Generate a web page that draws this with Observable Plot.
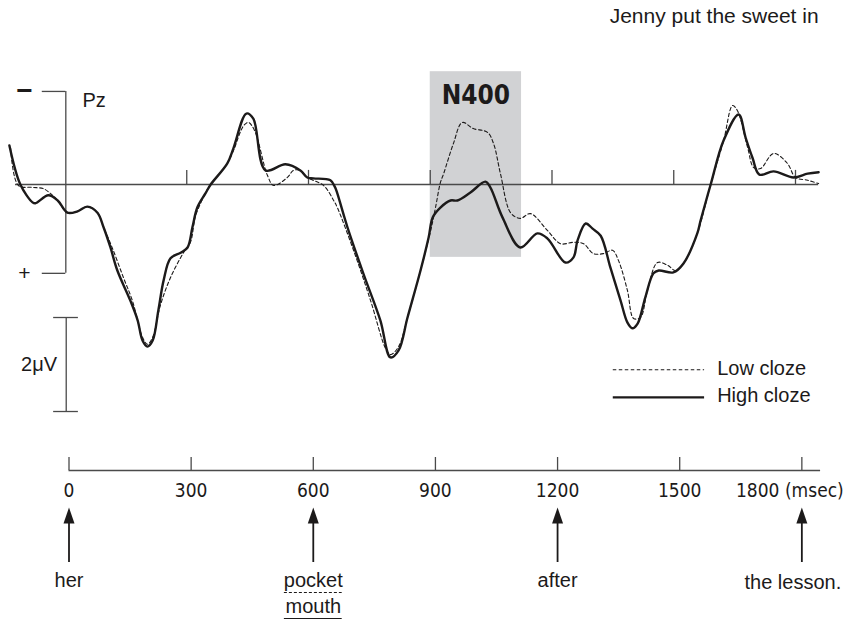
<!DOCTYPE html>
<html><head><meta charset="utf-8">
<script src="https://cdn.jsdelivr.net/npm/d3@7"></script>
<script src="https://cdn.jsdelivr.net/npm/@observablehq/plot@0.6"></script>
<style>body{margin:0;background:#fff;} #chart svg{display:block;}</style>
</head><body><div id="chart"></div>
<script>
// ---- data (ms, microvolts; negative plotted up) ----
const highT = [-137,-110,-80,-73,-41,-18,6,31,55,80,95,112,129,161,179,191,203,216,230,243,260,285,302,314,326,346,359,400,415,447,464,494,543,580,597,612,654,665,671,696,735,777,802,822,844,876,896,906,925,950,967,999,1036,1048,1078,1122,1164,1189,1233,1253,1263,1283,1300,1320,1344,1369,1386,1398,1411,1430,1450,1463,1499,1524,1558,1566,1591,1623,1660,1677,1694,1711,1746,1795,1830,1857];
const highV = [-0.83,0.0,0.38,0.40,0.23,0.34,0.60,0.57,0.47,0.60,0.91,1.34,1.83,2.47,2.89,3.32,3.45,3.32,2.68,2.04,1.57,1.45,1.34,0.91,0.49,0.19,0.0,-0.45,-0.77,-1.51,-1.40,-0.30,-0.43,-0.30,-0.15,-0.13,-0.09,0.05,0.19,0.91,1.89,2.89,3.68,3.53,2.83,1.83,1.13,0.70,0.49,0.34,0.34,0.17,-0.06,0.06,0.70,1.34,1.04,1.15,1.66,1.55,1.19,0.83,0.94,1.09,1.77,2.47,2.94,3.06,2.96,2.40,1.89,1.83,1.87,1.68,1.04,0.77,0.0,-0.94,-1.49,-1.00,-0.57,-0.21,-0.28,-0.15,-0.23,-0.26];
const lowT = [-134,-115,-80,-53,-36,-18,6,31,55,80,95,117,144,166,191,203,216,235,260,292,309,322,346,359,400,415,440,452,467,499,514,548,563,580,597,637,662,671,711,753,790,802,822,844,876,901,913,925,933,957,979,1006,1041,1056,1073,1098,1122,1147,1189,1221,1253,1278,1302,1327,1349,1364,1386,1401,1418,1435,1460,1485,1504,1524,1558,1591,1623,1645,1657,1682,1697,1714,1746,1780,1800,1830,1857];
const lowV = [-0.77,0.02,0.06,0.09,0.19,0.34,0.60,0.57,0.47,0.60,0.91,1.36,1.98,2.47,3.25,3.40,3.25,2.57,1.98,1.45,1.23,0.66,0.19,0.0,-0.45,-0.72,-1.25,-1.32,-1.15,-0.19,0.02,-0.15,-0.30,-0.30,-0.15,0.02,0.34,0.49,1.40,2.47,3.49,3.62,3.45,2.83,1.83,0.98,0.49,-0.04,-0.23,-0.87,-1.32,-1.19,-1.11,-0.87,-0.23,0.60,0.72,0.62,0.98,1.26,1.23,1.26,1.47,1.47,1.40,1.62,2.26,2.85,2.83,2.26,1.66,1.72,1.83,1.68,1.04,0.0,-0.94,-1.68,-1.57,-0.79,-0.36,-0.34,-0.66,-0.45,-0.15,-0.09,-0.02];
const seriesNames = ["Low cloze", "High cloze"];
const tickTimes = [0, 300, 600, 900, 1200, 1500, 1800];
const tickLabels = ["0", "300", "600", "900", "1200", "1500", "1800 (msec)"];
const wordTimes = [0, 600, 1200, 1800];
const words = ["her", "pocket", "after", "the lesson."];
const altWord = "mouth";
const header = "Jenny put the sweet in";
const electrode = "Pz";
const componentLabel = "N400";
const n400Window = [900, 1125];
const scaleBarUV = 2;
const scaleLabel = "2\u03bcV";

// ---- layout ----
const W = 846, H1 = 440, H2 = 182;
const pxPerMsTop = 0.40583, x0Top = 64.5;
const pxPerMsBot = 0.40714, x0Bot = 68.5;
const pxPerUV = 47, y0Top = 184;
const ink = "#1c1a1a", axisInk = "#4a4a4a";
const sans = "'Liberation Sans', Arial, Helvetica, sans-serif";
const narrow = "'Liberation Sans Narrow', 'Arial Narrow', 'DejaVu Sans Condensed', sans-serif";

const high = highT.map((t, i) => ({t, v: highV[i], s: seriesNames[1]}));
const low = lowT.map((t, i) => ({t, v: lowV[i], s: seriesNames[0]}));

const topPlot = Plot.plot({
  width: W, height: H1, margin: 0,
  x: {domain: [-x0Top / pxPerMsTop, (W - x0Top) / pxPerMsTop], range: [0, W], axis: null},
  y: {domain: [-y0Top / pxPerUV, (H1 - y0Top) / pxPerUV], range: [0, H1], axis: null},
  style: {fontFamily: sans, background: "#fff", color: ink},
  marks: [
    Plot.rect([n400Window], {x1: d => d[0], x2: d => d[1], y1: -2.4, y2: 1.55, fill: "#d1d2d4"}),
    Plot.text([componentLabel], {x: (n400Window[0] + n400Window[1]) / 2, y: -1.88, fontSize: 26, fontWeight: "bold", fontFamily: narrow, fill: ink}),
    // baseline & ticks
    Plot.ruleY([0], {x1: -122, x2: 1857, stroke: axisInk, strokeWidth: 1.3}),
    Plot.ruleX(tickTimes.slice(1), {y1: 0, y2: -0.3, stroke: axisInk, strokeWidth: 1.3}),
    // Pz bracket
    Plot.ruleX([0], {x: 2, y1: -1.98, y2: 1.89, stroke: axisInk, strokeWidth: 1.3}),
    Plot.ruleY([-1.98, 1.89], {x1: -56, x2: 2, stroke: axisInk, strokeWidth: 1.3}),
    Plot.text(["\u2212"], {x: -100, y: -1.98, fontSize: 28, fontWeight: "bold", fill: ink}),
    Plot.text(["+"], {x: -100, y: 1.89, fontSize: 21, fill: ink}),
    Plot.text([electrode], {x: 43, y: -1.79, textAnchor: "start", fontSize: 20, fill: ink}),
    // scale bar
    Plot.ruleX([3], {y1: 2.83, y2: 2.83 + scaleBarUV, stroke: axisInk, strokeWidth: 1.3}),
    Plot.ruleY([2.83, 2.83 + scaleBarUV], {x1: -28, x2: 33, stroke: axisInk, strokeWidth: 1.3}),
    Plot.text([scaleLabel], {x: -64, y: 2.83 + scaleBarUV / 2, fontSize: 20, fill: ink}),
    // waveforms
    Plot.line(low, {x: "t", y: "v", curve: "catmull-rom", stroke: ink, strokeWidth: 1.1, strokeDasharray: "3.5,2.5"}),
    Plot.line(high, {x: "t", y: "v", curve: "catmull-rom", stroke: ink, strokeWidth: 2.4}),
    // legend
    Plot.ruleY([3.94], {x1: 1351, x2: 1576, stroke: ink, strokeWidth: 1.1, strokeDasharray: "3.5,2.5"}),
    Plot.ruleY([4.53], {x1: 1351, x2: 1576, stroke: ink, strokeWidth: 2.4}),
    Plot.text(seriesNames, {x: 1607, y: [3.91, 4.49], textAnchor: "start", fontSize: 20, fill: ink}),
    // header
    Plot.text([header], {x: 1857, y: -3.57, textAnchor: "end", fontSize: 21, fill: ink})
  ]
});

const botPlot = Plot.plot({
  width: W, height: H2, margin: 0,
  x: {domain: [-x0Bot / pxPerMsBot, (W - x0Bot) / pxPerMsBot], range: [0, W], axis: null},
  y: {domain: [0, H2], range: [0, H2], axis: null},
  style: {fontFamily: sans, background: "#fff", color: ink},
  marks: [
    Plot.ruleY([30], {x1: 0, x2: 1846, stroke: axisInk, strokeWidth: 1.3}),
    Plot.ruleX(tickTimes, {y1: 17, y2: 30, stroke: axisInk, strokeWidth: 1.3}),
    Plot.text(tickLabels.slice(0, 6), {x: tickTimes.slice(0, 6), y: 50, fontSize: 19, fontFamily: narrow, fill: ink}),
    Plot.text(tickLabels.slice(6), {x: tickTimes.slice(6), y: 50, dx: -12, fontSize: 19, fontFamily: narrow, fill: ink}),
    // arrows
    Plot.ruleX(wordTimes, {y1: 78, y2: 122, stroke: ink, strokeWidth: 1.8}),
    Plot.vector(wordTimes, {x: d => d, y: 67, length: 16, r: 5.5, shape: "spike", anchor: "end", fill: ink, stroke: "none"}),
    // words
    Plot.text(words.slice(0, 3), {x: wordTimes.slice(0, 3), y: 140, fontSize: 20, fill: ink}),
    Plot.text(words.slice(3), {x: wordTimes.slice(3), y: 142, dx: -9, fontSize: 20, fill: ink}),
    Plot.text([altWord], {x: wordTimes[1], y: 166, fontSize: 20, fill: ink}),
    Plot.ruleY([152], {x1: wordTimes[1] - 71, x2: wordTimes[1] + 71, stroke: ink, strokeWidth: 1.1, strokeDasharray: "3,2"}),
    Plot.ruleY([178], {x1: wordTimes[1] - 71, x2: wordTimes[1] + 71, stroke: ink, strokeWidth: 1.2})
  ]
});

const root = document.getElementById("chart");
root.appendChild(topPlot);
root.appendChild(botPlot);
</script>
</body></html>
